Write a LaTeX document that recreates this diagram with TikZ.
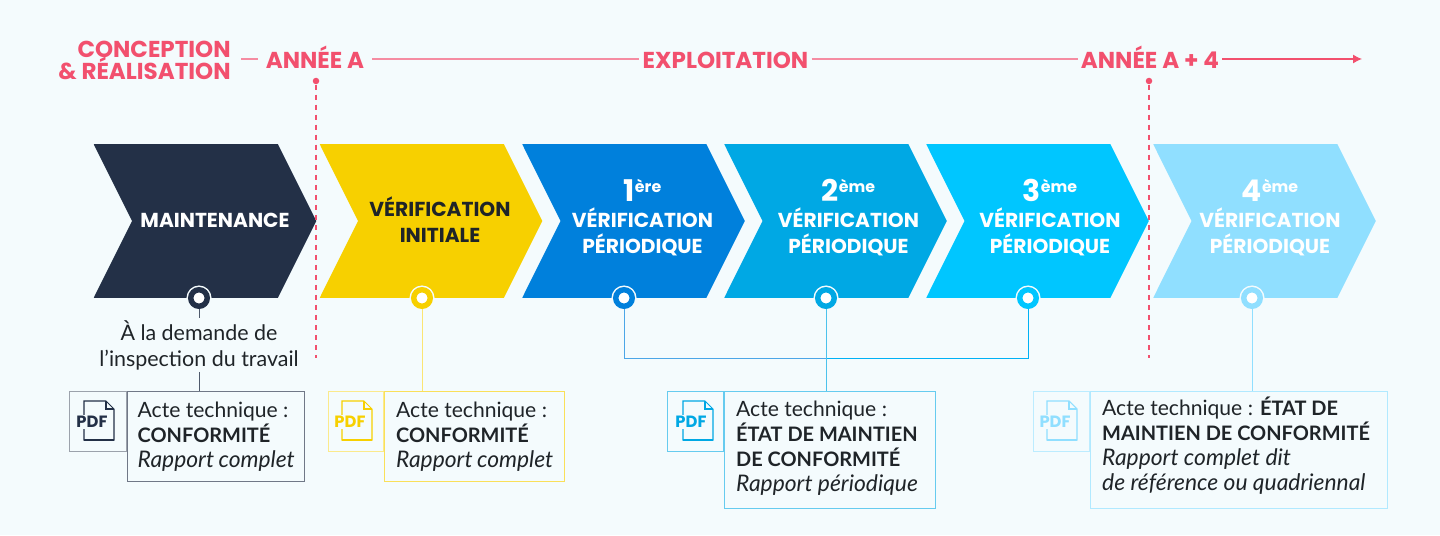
\documentclass[tikz,border=0pt]{standalone}
\usepackage{fontspec}
\setmainfont{Lato}
\newfontfamily\headfont{Poppins}
\usepackage{tikz}
\usetikzlibrary{arrows.meta,shapes.symbols}

\definecolor{paper}{HTML}{F4FBFD}
\definecolor{ink}{HTML}{1F2428}
\definecolor{rose}{HTML}{F2506E}
\definecolor{roseline}{HTML}{F58CA2}
\definecolor{navy}{HTML}{233047}
\definecolor{sun}{HTML}{F7D000}
\definecolor{blueA}{HTML}{0080DC}
\definecolor{blueB}{HTML}{00A8E4}
\definecolor{blueC}{HTML}{00C6FF}
\definecolor{blueD}{HTML}{90DFFF}

% page outline with its folded corner and the word on top
\newcommand{\pdfdoc}[4]{
	\begin{scope}[shift={(#2,#3)}, #4, line width=0.6pt]
		\draw (0,0) -- (0.60,0) -- (0.60,0.62) -- (0.44,0.78) -- (0,0.78) -- cycle;
		\draw (0.44,0.78) -- (0.44,0.62) -- (0.60,0.62);
		\draw[line width=1.2pt] (0,0) -- (0.60,0);
		\node[fill=paper, inner sep=0.5pt, font=\headfont\bfseries\fontsize{9.3}{10}\selectfont, text=#4] (#1) at (0.16,0.36) {PDF};
	\end{scope}
}
\newcommand{\docbold}[1]{{\bfseries\fontsize{11.35}{14.2}\selectfont #1}}
\newcommand{\docital}[1]{{\itshape\fontsize{13}{14.2}\selectfont #1}}
\newcommand{\ordinal}[2]{{\fontsize{17}{17}\selectfont #1}\raisebox{0.8ex}{\fontsize{9}{9}\selectfont #2}}
\newcommand{\lowtail}[1]{\rule[-#1]{0pt}{0pt}}

\begin{document}
\begin{tikzpicture}[
	every node/.style={font=\fontsize{12}{14.2}\selectfont, text=ink},
	>={Latex[length=2mm]},
	chevron/.style={signal, signal from=west, signal to=east, signal pointer angle=127, inner sep=0pt, minimum width=4.45cm, minimum height=3.07cm, fill=#1},
	steptext/.style={align=center, text=white, font=\headfont\bfseries\fontsize{11.5}{14.6}\selectfont},
	timelabel/.style={text=rose, inner ysep=0pt, inner xsep=0.06cm, text height=11pt, text depth=0pt, font=\headfont\bfseries\fontsize{13.1}{12.6}\selectfont},
	timeline/.style={roseline, line width=0.65pt},
	ring/.style={circle, inner sep=0pt, minimum size=0.33cm, fill=white, draw=#1, line width=3.1pt, preaction={draw=paper, line width=4.8pt}},
	pinkdot/.style={circle, inner sep=0pt, minimum size=0.13cm, fill=rose},
	doctext/.style={draw=#1, line width=0.8pt, anchor=north west, align=flush left, inner xsep=0.23cm, inner ysep=0pt},
	iconbox/.style={draw=#1, line width=0.6pt, anchor=north east, inner sep=0pt, minimum height=1.20cm},
	thinlink/.style={line width=0.55pt},
]
	\useasboundingbox (0,0) rectangle (28.8,10.7);
	\fill[paper] (0,0) rectangle (28.8,10.7);
	% time line
	\node[timelabel, align=right, anchor=east, inner xsep=0.2cm, text height=, text depth=] (conception) at (4.82,9.49) {CONCEPTION\\[-1.7pt]\& RÉALISATION};
	\node[timelabel, inner xsep=0.15cm] (anneeA) at (6.30,9.52) {ANNÉE A};
	\node[timelabel] (exploitation) at (14.51,9.52) {EXPLOITATION};
	\node[timelabel] (anneeB) at (23.00,9.52) {ANNÉE A + 4};
	\coordinate (fin) at (27.24,9.52);
	\draw[timeline] (conception.east |- anneeA.west) -- (anneeA.west);
	\draw[timeline] (anneeA.east) -- (exploitation.west);
	\draw[timeline] (exploitation.east) -- (anneeB.west);
	\draw[timeline, ->, >={Latex[length=1.8mm,width=1.8mm]}, rose] (anneeB.east) -- (fin);
	% steps
	\node[chevron=navy] (c1) at (4.10,6.28) {};
	\node[chevron=sun] (c2) at (8.62,6.28) {};
	\node[chevron=blueA] (c3) at (12.67,6.28) {};
	\node[chevron=blueB] (c4) at (16.71,6.28) {};
	\node[chevron=blueC] (c5) at (20.75,6.28) {};
	\node[chevron=blueD] (c6) at (25.29,6.28) {};
	\node[steptext] (t1) at (4.30,6.30) {MAINTENANCE};
	\node[steptext, text=ink] (t2) at (8.80,6.31) {VÉRIFICATION\\INITIALE};
	\node[steptext] (t3) at (12.85,6.35) {\ordinal{1}{ère}\\VÉRIFICATION\\PÉRIODIQUE};
	\node[steptext] (t4) at (16.97,6.35) {\ordinal{2}{ème}\\VÉRIFICATION\\PÉRIODIQUE};
	\node[steptext] (t5) at (21.00,6.35) {\ordinal{3}{ème}\\VÉRIFICATION\\PÉRIODIQUE};
	\node[steptext] (t6) at (25.40,6.35) {\ordinal{4}{ème}\\VÉRIFICATION\\PÉRIODIQUE};
	% year marks
	\node[pinkdot] (p1) at (6.32,9.08) {};
	\node[pinkdot] (p2) at (22.98,9.08) {};
	\coordinate (p1end) at (6.32,3.54);
	\coordinate (p2end) at (22.98,3.54);
	\draw[rose, line width=0.6pt, dash pattern=on 3pt off 2.7pt] (p1) -- (p1end);
	\draw[rose, line width=1.4pt, dash pattern=on 3pt off 2.7pt] (p2) -- (p2end);
	% documents
	\node[doctext=navy!65, inner xsep=0.20cm, text width=3.14cm, minimum height=1.80cm] (d1) at (2.54,2.88) {Acte~technique~:\\\docbold{CONFORMITÉ}\\\docital{Rapport~complet}};
	\node[doctext=sun!65, text width=3.14cm, minimum height=1.80cm] (d2) at (7.68,2.88) {Acte~technique~:\\\docbold{CONFORMITÉ}\\\docital{Rapport~complet}};
	\node[doctext=blueB!60, text width=3.76cm, minimum height=2.34cm] (d3) at (14.48,2.88) {Acte~technique~:\\\docbold{ÉTAT~DE~MAINTIEN}\\\docbold{DE~CONFORMITÉ}\\\docital{Rapport~périodique}\lowtail{4.7pt}};
	\node[doctext=blueD!70, text width=5.48cm, minimum height=2.34cm] (d4) at (21.80,2.88) {Acte~technique~: \docbold{ÉTAT~DE}\\\docbold{MAINTIEN~DE~CONFORMITÉ}\\\docital{Rapport~complet~dit}\\\docital{de~référence~ou~quadriennal}\lowtail{7.6pt}};
	\node[iconbox=navy!45, minimum width=1.14cm] (i1) at (d1.north west) {};
	\node[iconbox=sun!45, minimum width=1.10cm] (i2) at (d2.north west) {};
	\node[iconbox=blueB!60, minimum width=1.12cm] (i3) at (d3.north west) {};
	\node[iconbox=blueD!60, minimum width=1.12cm] (i4) at (d4.north west) {};
	\pdfdoc{f1}{1.68}{1.90}{navy}
	\pdfdoc{f2}{6.84}{1.90}{sun}
	\pdfdoc{f3}{13.66}{1.90}{blueB}
	\pdfdoc{f4}{20.94}{1.90}{blueD}
	% links
	\node[ring=navy] (m1) at (3.98,4.74) {};
	\node[ring=sun] (m2) at (8.44,4.74) {};
	\node[ring=blueA] (m3) at (12.48,4.74) {};
	\node[ring=blueB] (m4) at (16.52,4.74) {};
	\node[ring=blueC] (m5) at (20.56,4.74) {};
	\node[ring=blueD] (m6) at (25.04,4.74) {};
	\node[align=center, inner sep=1pt, font=\fontsize{12.2}{14.8}\selectfont] (note) at (3.98,3.80) {À la demande de\\l’inspection du travail};
	\coordinate (elbow) at (16.52,3.54);
	\draw[thinlink, navy!80] (m1) -- (note);
	\draw[thinlink, navy!80] (note) -- (note |- d1.north);
	\draw[thinlink, sun!55] (m2) -- (m2 |- d2.north);
	\draw[thinlink, blueA!70] (m3) |- (elbow);
	\draw[thinlink, blueC!70!blueA] (m5) |- (elbow);
	\draw[thinlink, blueB!70] (m4) -- (m4 |- d3.north);
	\draw[thinlink, blueD] (m6) -- (m6 |- d4.north);
\end{tikzpicture}
\end{document}
